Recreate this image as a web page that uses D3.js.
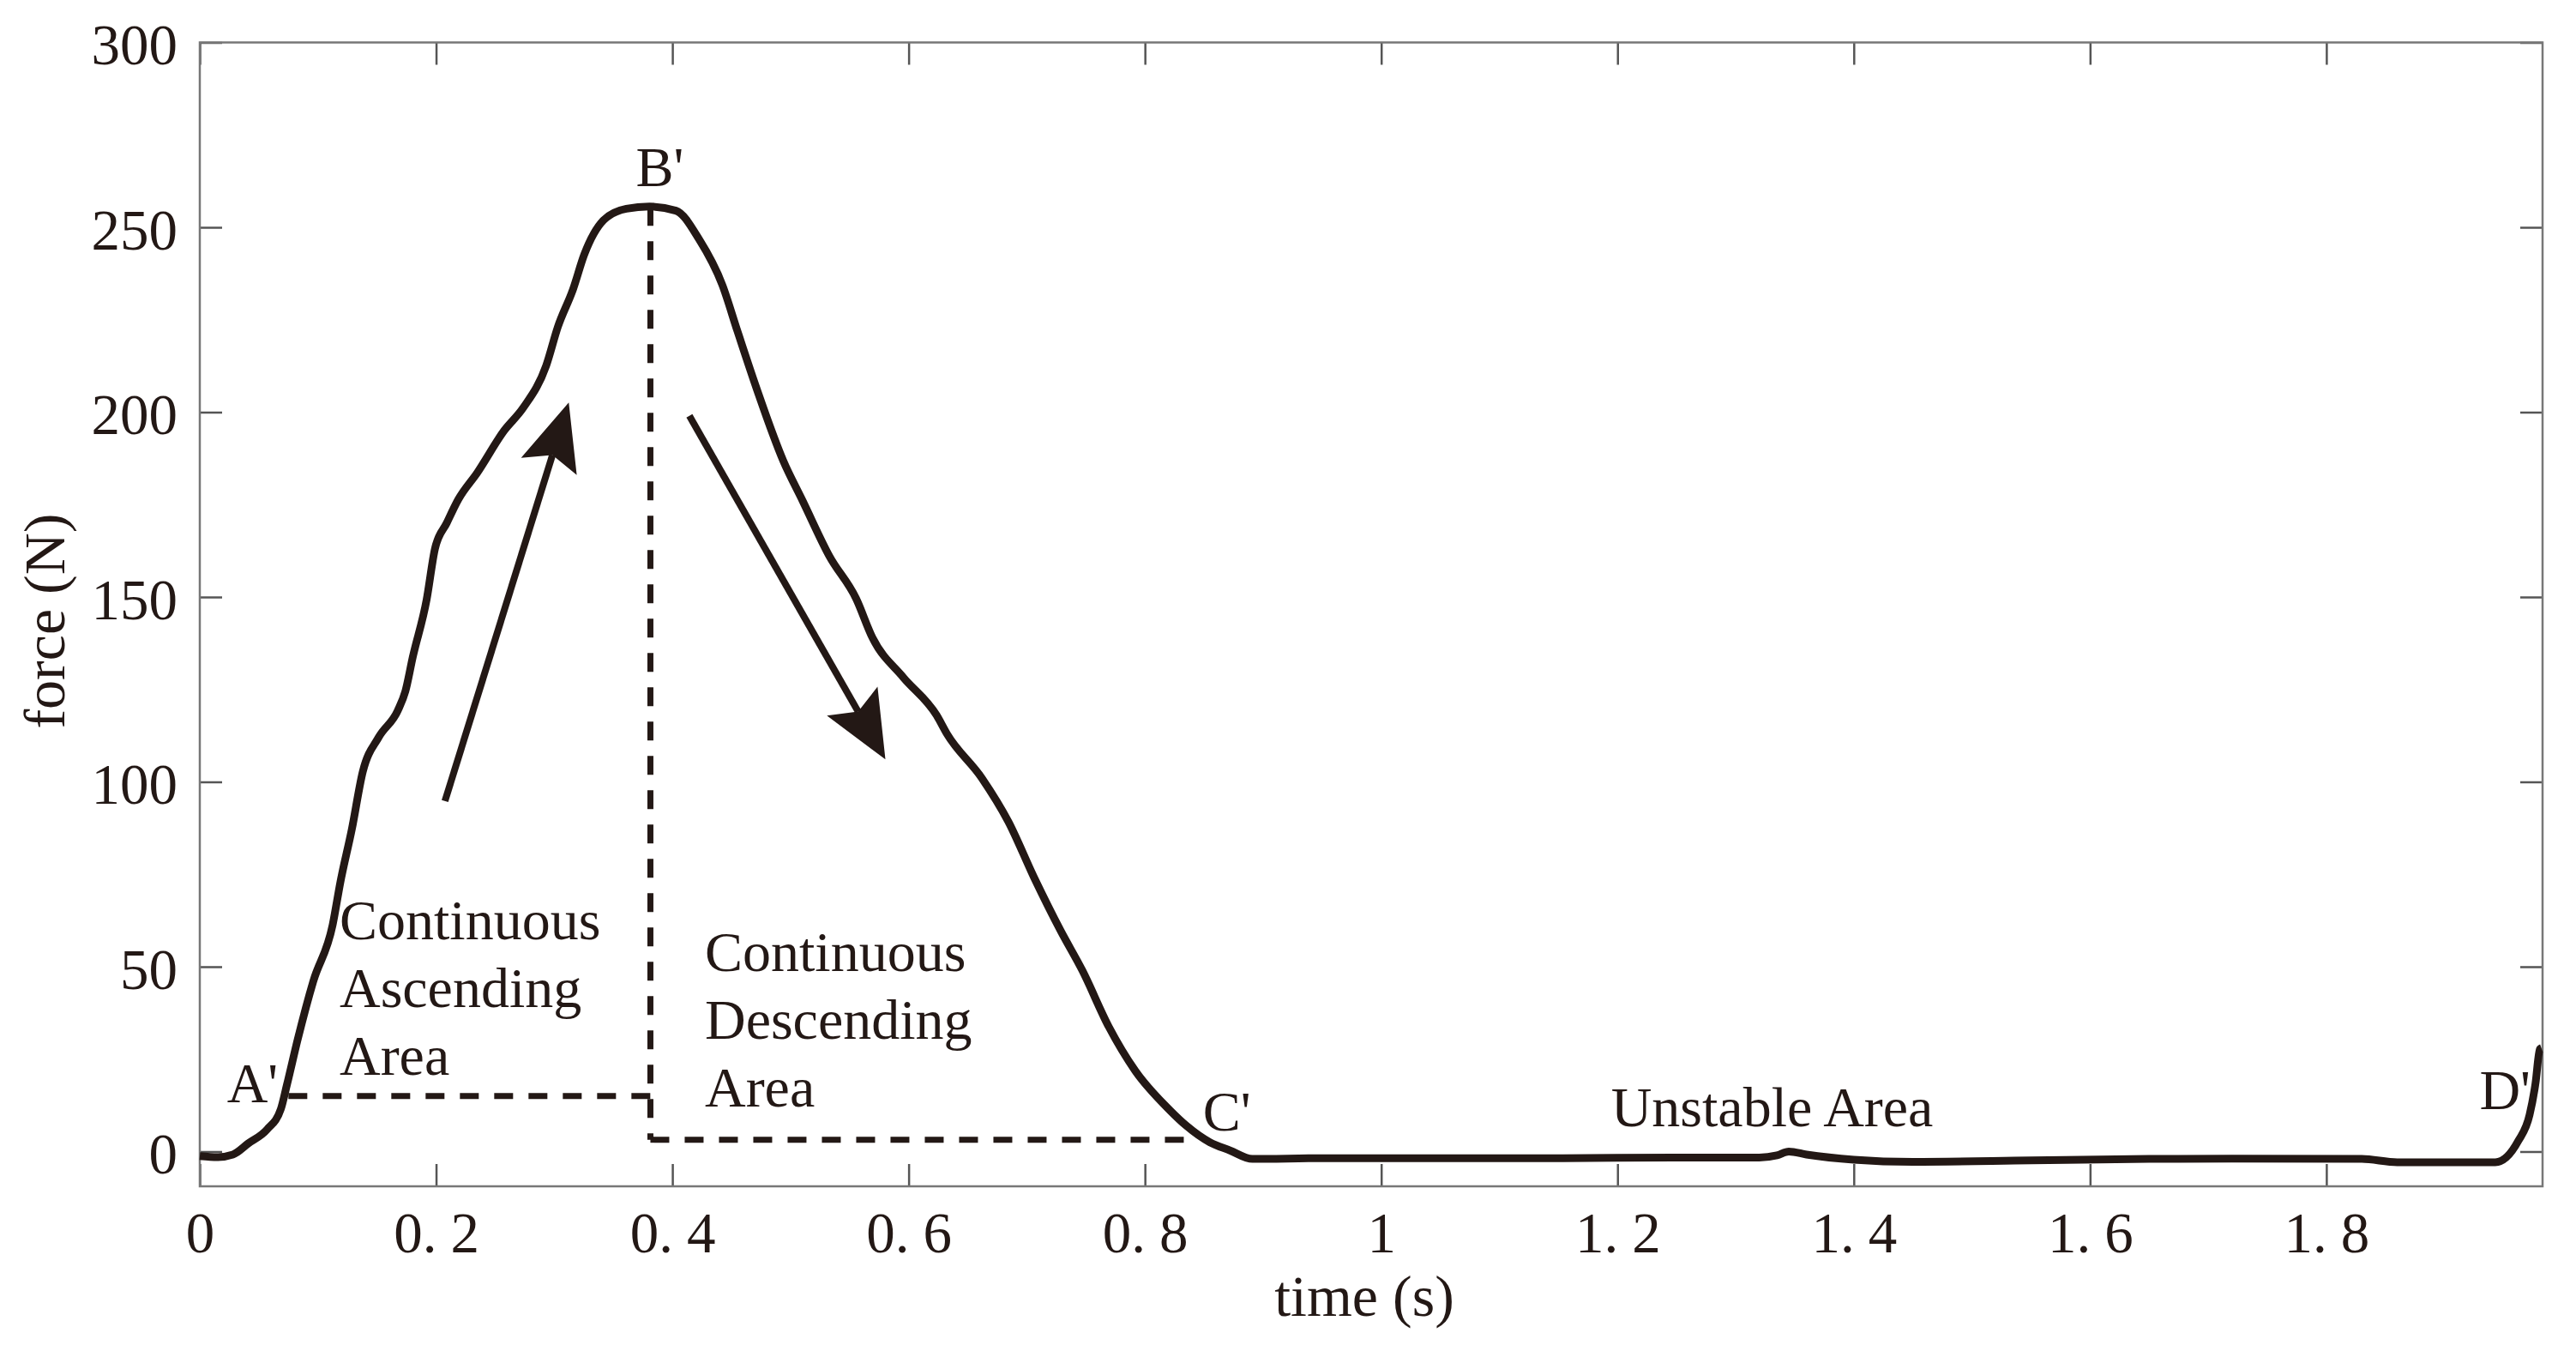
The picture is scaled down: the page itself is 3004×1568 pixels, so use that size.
<!DOCTYPE html>
<html>
<head>
<meta charset="utf-8">
<script src="https://cdn.jsdelivr.net/npm/d3@7"></script>
<style>
  body { margin: 0; background: #fff; }
  svg { display: block; background: #fff; font-family: "Liberation Serif", "Times New Roman", serif; }
</style>
</head>
<body>
<svg id="chart"></svg>
<script>
// force curve: time (s) / force (N)
const time = [0.000, 0.015, 0.028, 0.041, 0.057, 0.0686, 0.0737, 0.083, 0.096, 0.1125,
              0.119, 0.1287, 0.138, 0.1513, 0.1676, 0.174, 0.1803, 0.192, 0.199, 0.209,
              0.2188, 0.2348, 0.2576, 0.2738, 0.2932, 0.303, 0.316, 0.3255, 0.342, 0.361,
              0.3806, 0.403, 0.4227, 0.4423, 0.455, 0.4713, 0.4938, 0.5103, 0.533, 0.5555,
              0.5695, 0.5954, 0.6237, 0.6324, 0.662, 0.6843, 0.7065, 0.7287, 0.747, 0.7695,
              0.7917, 0.821, 0.835, 0.855, 0.872, 0.891, 0.95, 1.05, 1.15, 1.25,
              1.32, 1.335, 1.345, 1.36, 1.40, 1.45, 1.55, 1.65, 1.72, 1.83,
              1.86, 1.943, 1.9625, 1.972, 1.977, 1.9807, 1.982];
const force = [-1.2, -1.5, -0.8, 2.2, 6.0, 11.5, 18, 30.5, 46, 61.4,
               72.9, 87.2, 102.8, 112, 119.3, 124.5, 133.8, 149.3, 163, 170,
               176.4, 183.6, 195, 201.2, 212.6, 223, 233.3, 242.7, 252, 255,
               255.6, 254.5, 246.7, 234.4, 222, 206.4, 186.9, 176, 161, 149.6,
               138.9, 128.3, 118, 113, 101, 89.3, 73.9, 59.7, 49, 33.7,
               21.9, 11.2, 7, 2.5, 0.3, -2, -1.8, -1.8, -1.8, -1.6,
               -1.6, -1.0, 0, -0.8, -2.2, -2.8, -2.4, -2.0, -1.9, -2.0,
               -2.9, -2.9, 2.9, 9.9, 18.4, 27.7, 28];

const xTicks = [0, 0.2, 0.4, 0.6, 0.8, 1, 1.2, 1.4, 1.6, 1.8];
const yTicks = [0, 50, 100, 150, 200, 250, 300];

// dashed guide lines, [time, force] pairs
const guideA = [[0.075, 15], [0.3814, 15]];
const guideB = [[0.3814, 255.5], [0.3814, 3.2]];
const guideC = [[0.3814, 3.2], [0.845, 3.2]];

// arrows, tail -> tip
const arrowTails = [[0.2075, 94.8], [0.4144, 199]];
const arrowTips = [[0.3123, 202.6], [0.5803, 106.1]];

// text notes, anchored at [time, force]
const noteText = [["B'"], ["A'"], ["Continuous", "Ascending", "Area"],
                  ["Continuous", "Descending", "Area"], ["C'"], ["Unstable Area"], ["D'"]];
const noteAt = [[0.369, 261.1], [0.023, 13.3], [0.1183, 57.4],
                [0.4275, 48.8], [0.849, 5.7], [1.1945, 6.8], [1.9296, 11.5]];

class ForceChart {

    constructor( config, data ) {
        this.config = {
            parent: config.parent,
            width: config.width || 3004,
            height: config.height || 1568,
            margin: config.margin || {top: 49.5, right: 39, bottom: 185, left: 233},
            ink: config.ink || '#231815'
        }
        this.data = data;
        this.init();
    }

    init() {
        let self = this;
        let m = self.config.margin;

        self.inner_width = self.config.width - m.left - m.right;
        self.inner_height = self.config.height - m.top - m.bottom;

        self.svg = d3.select( self.config.parent )
            .attr('width', self.config.width)
            .attr('height', self.config.height);

        self.chart = self.svg.append('g')
            .attr('transform', `translate(${m.left}, ${m.top})`);

        self.xscale = d3.scaleLinear()
            .domain([0, 1.983])
            .range([0, self.inner_width]);

        self.yscale = d3.scaleLinear()
            .domain([-9.4, 300])
            .range([self.inner_height, 0]);
    }

    update() {
        let self = this;

        self.render();
    }

    render() {
        let self = this;
        let ink = self.config.ink;
        let fmt = d3.format('~g');

        // axes, ticks pointing inward like the original
        let xaxis = d3.axisBottom(self.xscale)
            .tickValues(xTicks).tickSizeInner(-26).tickSizeOuter(0).tickPadding(29)
            .tickFormat(fmt);
        let yaxis = d3.axisLeft(self.yscale)
            .tickValues(yTicks).tickSizeInner(-26).tickSizeOuter(0).tickPadding(26);

        let xg = self.chart.append('g')
            .attr('transform', `translate(0, ${self.inner_height})`)
            .call(xaxis);
        let yg = self.chart.append('g').call(yaxis);
        let tg = self.chart.append('g')
            .call(d3.axisTop(self.xscale).tickValues(xTicks).tickSizeInner(-26).tickSizeOuter(0).tickFormat(''));
        let rg = self.chart.append('g')
            .attr('transform', `translate(${self.inner_width}, 0)`)
            .call(d3.axisRight(self.yscale).tickValues(yTicks).tickSizeInner(-26).tickSizeOuter(0).tickFormat(''));

        [xg, yg, tg, rg].forEach(g => {
            g.select('.domain').remove();
            g.selectAll('.tick line').attr('stroke', '#555').attr('stroke-width', 2.5);
            g.attr('font-family', null).attr('font-size', 67);
            g.selectAll('.tick text').attr('fill', ink);
        });
        yg.selectAll('.tick text').attr('dy', '0.38em');

        // decimal labels drawn as "0. 2" with the wide stop
        xg.selectAll('.tick text').each(function(d) {
            let s = fmt(d);
            if (s.indexOf('.') < 0) return;
            let parts = s.split('.');
            let t = d3.select(this).text('');
            t.append('tspan').text(parts[0] + '.');
            t.append('tspan').attr('dx', 16).text(parts[1]);
        });

        // frame
        self.chart.append('rect')
            .attr('width', self.inner_width)
            .attr('height', self.inner_height)
            .attr('fill', 'none')
            .attr('stroke', '#777')
            .attr('stroke-width', 2.5);

        // dashed guides
        let guide = d3.line()
            .x(d => self.xscale(d[0]))
            .y(d => self.yscale(d[1]));
        self.chart.selectAll('.guide')
            .data([guideA, guideB, guideC])
            .enter()
            .append('path')
            .attr('class', 'guide')
            .attr('d', guide)
            .attr('fill', 'none')
            .attr('stroke', ink)
            .attr('stroke-width', 7)
            .attr('stroke-dasharray', '22,18');

        // force curve
        let line = d3.line()
            .x(d => self.xscale(d.t))
            .y(d => self.yscale(d.f))
            .curve(d3.curveMonotoneX);
        self.chart.append('path')
            .datum(self.data)
            .attr('d', line)
            .attr('fill', 'none')
            .attr('stroke', ink)
            .attr('stroke-width', 9)
            .attr('stroke-linejoin', 'round');

        // arrows
        let arrows = arrowTails.map((a, i) => ({from: a, to: arrowTips[i]}));
        let headLen = 78, headHalf = 34, notch = 64;
        arrows.forEach(a => {
            let x0 = self.xscale(a.from[0]), y0 = self.yscale(a.from[1]);
            let x1 = self.xscale(a.to[0]), y1 = self.yscale(a.to[1]);
            let len = Math.hypot(x1 - x0, y1 - y0);
            let ux = (x1 - x0) / len, uy = (y1 - y0) / len;
            let nx = -uy, ny = ux;
            let bx = x1 - ux * headLen, by = y1 - uy * headLen;
            let kx = x1 - ux * notch, ky = y1 - uy * notch;
            self.chart.append('line')
                .attr('x1', x0).attr('y1', y0)
                .attr('x2', kx).attr('y2', ky)
                .attr('stroke', ink).attr('stroke-width', 8);
            self.chart.append('path')
                .attr('d', `M${x1},${y1}L${bx + nx * headHalf},${by + ny * headHalf}L${kx},${ky}L${bx - nx * headHalf},${by - ny * headHalf}Z`)
                .attr('fill', ink);
        });

        // notes
        let notes = noteText.map((lines, i) => ({lines: lines, at: noteAt[i]}));
        notes.forEach(n => {
            let x = self.xscale(n.at[0]);
            let txt = self.chart.append('text')
                .attr('x', x)
                .attr('y', self.yscale(n.at[1]))
                .attr('fill', ink)
                .style('font-size', '66px');
            n.lines.forEach((l, i) => {
                txt.append('tspan')
                    .attr('x', x)
                    .attr('dy', i == 0 ? 0 : 79)
                    .text(l);
            });
        });

        // axis titles
        self.svg.append('text')
            .attr('x', 1591)
            .attr('y', 1534)
            .attr('text-anchor', 'middle')
            .attr('fill', ink)
            .style('font-size', '68px')
            .text('time (s)');

        self.svg.append('text')
            .attr('transform', 'translate(75, 724) rotate(-90)')
            .attr('text-anchor', 'middle')
            .attr('fill', ink)
            .style('font-size', '68px')
            .text('force (N)');
    }

}

let data = time.map((t, i) => ({t: t, f: force[i]}));
let chart = new ForceChart({ parent: '#chart' }, data);
chart.update();
</script>
</body>
</html>
